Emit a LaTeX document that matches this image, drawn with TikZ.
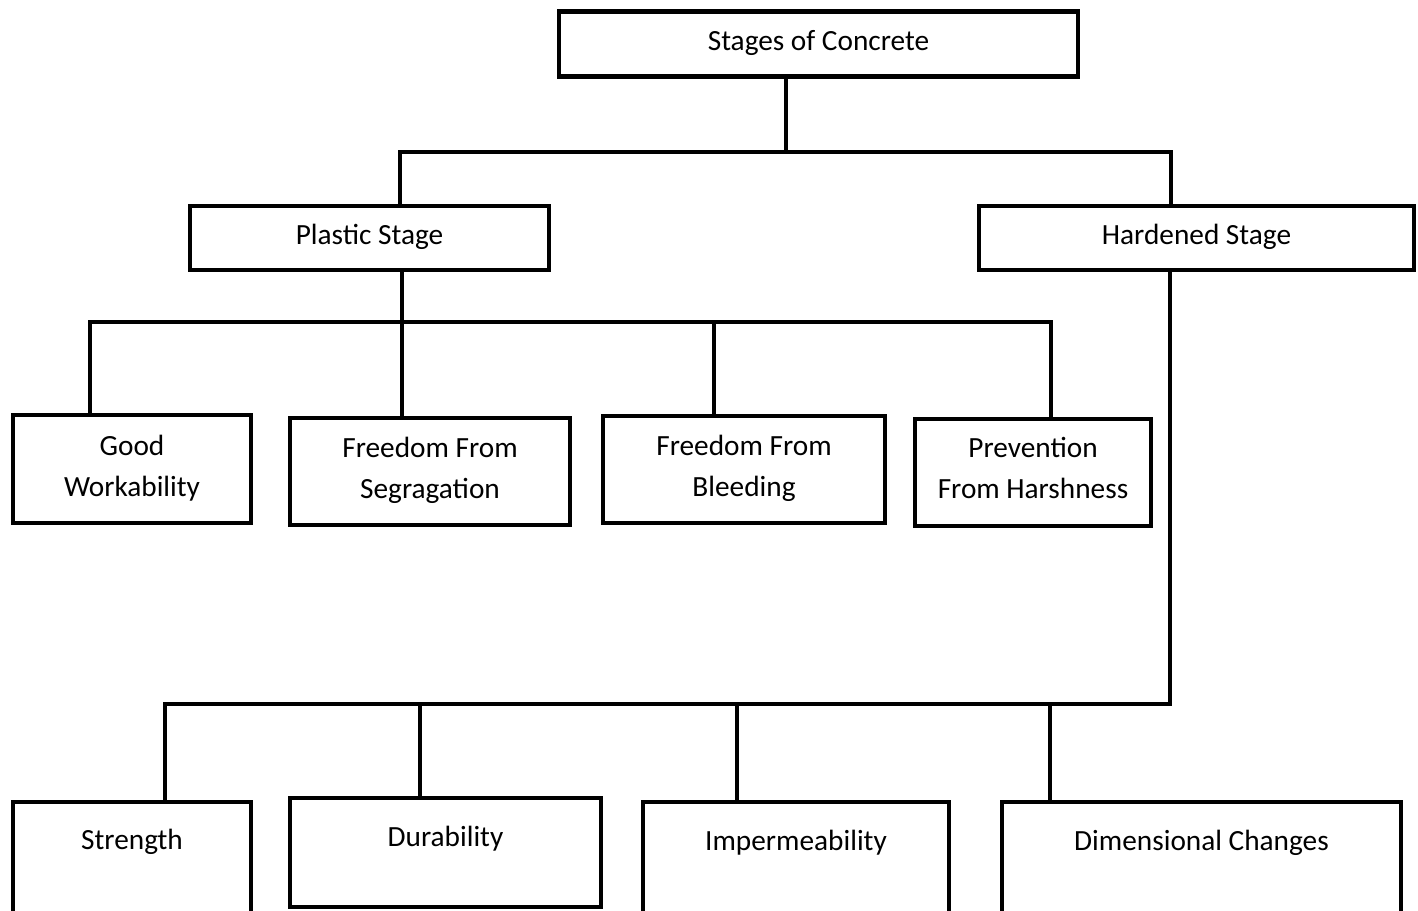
\documentclass[tikz,border=0pt]{standalone}
\usepackage{fontspec}
\setmainfont{Carlito}
\begin{document}
\begin{tikzpicture}[x=1pt,y=-1pt,
  box/.style={draw=black, line width=4.5pt, rectangle, inner sep=0pt},
  conn/.style={draw=black, line width=4.5pt},
  lbl/.style={anchor=base, inner sep=0pt, font=\fontsize{29.3}{41}\selectfont}]
\useasboundingbox (0,0) rectangle (1418,910);
\clip (0,0) rectangle (1418,910);
\fill[white] (0,0) rectangle (1418,910);
% boxes
\node[box, minimum width=519pt, minimum height=65pt] (top) at (818.5,44) {};
\node[box, minimum width=359pt, minimum height=64pt] (pl) at (369.5,238) {};
\node[box, minimum width=435pt, minimum height=64pt] (hd) at (1196.5,238) {};
\node[box, minimum width=238pt, minimum height=108pt] (g1) at (132,469) {};
\node[box, minimum width=280pt, minimum height=107pt] (g2) at (430,471.5) {};
\node[box, minimum width=282pt, minimum height=107pt] (g3) at (744,469.5) {};
\node[box, minimum width=236pt, minimum height=107pt] (g4) at (1033,472.5) {};
\node[box, minimum width=238pt, minimum height=136pt] (s1) at (132,870) {};
\node[box, minimum width=311pt, minimum height=109pt] (s2) at (445.5,852.5) {};
\node[box, minimum width=306pt, minimum height=136pt] (s3) at (796,870) {};
\node[box, minimum width=399pt, minimum height=136pt] (s4) at (1201.5,870) {};
% texts
\node[lbl] (t0) at (818.5,50) {Stages of Concrete};
\node[lbl] (tp) at (369.5,244) {Plastic Stage};
\node[lbl] (th) at (1196.5,244) {Hardened Stage};
\node[lbl] (tg1) at (132,455) {\begin{tabular}[t]{@{}c@{}}Good\\Workability\end{tabular}};
\node[lbl] (tg2) at (430,457) {\begin{tabular}[t]{@{}c@{}}Freedom From\\Segragation\end{tabular}};
\node[lbl] (tg3) at (744,455) {\begin{tabular}[t]{@{}c@{}}Freedom From\\Bleeding\end{tabular}};
\node[lbl] (tg4) at (1033,457) {\begin{tabular}[t]{@{}c@{}}Prevention\\From Harshness\end{tabular}};
\node[lbl] (ts1) at (132,849) {Strength};
\node[lbl] (ts2) at (445.5,846) {Durability};
\node[lbl] (ts3) at (796,850) {Impermeability};
\node[lbl] (ts4) at (1201.5,850) {Dimensional Changes};
% junction coordinates
\coordinate (b0) at (786,152);
\coordinate (xL) at (400,0);
\coordinate (xR) at (1171,0);
\coordinate (b1) at (402,322);
\coordinate (x1) at (90,0);
\coordinate (x3) at (714,0);
\coordinate (x4) at (1051,0);
\coordinate (b2) at (1170,704);
\coordinate (y1) at (165,0);
\coordinate (y2) at (420,0);
\coordinate (y3) at (737,0);
\coordinate (y4) at (1050,0);
% connectors
\draw[conn] (top.south -| b0) -- (b0);
\draw[conn] (pl.north -| xL) |- (b0) -| (hd.north -| xR);
\draw[conn] (pl.south -| b1) -- (g2.north -| b1);
\draw[conn] (g1.north -| x1) |- (b1) -| (g3.north -| x3);
\draw[conn] (b1) -| (g4.north -| x4);
\draw[conn] (hd.south -| b2) -- (b2) -| (s1.north -| y1);
\draw[conn] (b2) -| (s2.north -| y2);
\draw[conn] (b2) -| (s3.north -| y3);
\draw[conn] (b2) -| (s4.north -| y4);
\end{tikzpicture}
\end{document}
